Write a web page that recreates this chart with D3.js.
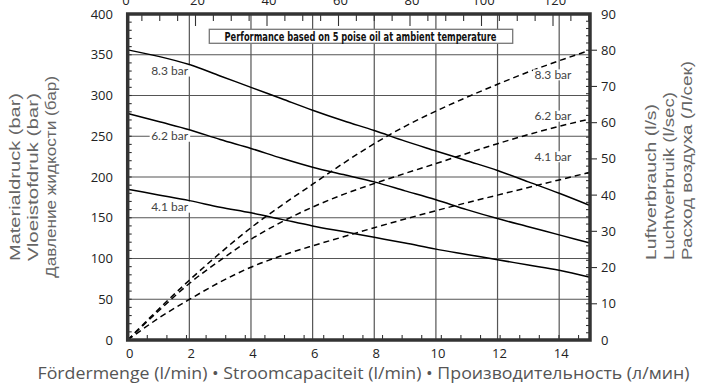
<!DOCTYPE html>
<html><head><meta charset="utf-8">
<script src="https://cdn.jsdelivr.net/npm/d3@7"></script>
<style>body{margin:0;background:#fff}svg{display:block}</style>
</head><body><svg id="c" width="704" height="392"></svg>
<script>
// ---- data ----
const flow = [0,1,2,3,4,5,6,7,8,9,10,11,12,13,14,15];            // l/min
const pressure83 = [356,348,338,324,310,296,282,269,257,244,232,220,208,194,180,165];
const pressure62 = [278,268,258,246,235,223,212,203,194,183,172,160,149,139,129,119];
const pressure41 = [185,178,171,163,156,148,140,133,126,119,111.5,105,98.5,92,85.5,77];
const air83 = [0,8.5,16.5,24,31,37.2,43,48.8,54.2,59,63.2,67,70.6,74,77.1,80];
const air62 = [0,8,15.6,22,27.8,32.6,36.7,40.2,43.2,46,48.7,51.5,54.2,56.7,59,61];
const air41 = [0,6,11.2,16,20.1,23.3,26,28.5,31,33.4,35.7,37.9,40,42.1,44.2,46.3];
const seriesNames = ["8.3 bar","6.2 bar","4.1 bar"];
const pressureLabelValues = [330,250,163];   // left-axis value of each pressure label
const airLabelValues = [73.2,61.8,50.6];     // right-axis value of each air label
const leftTicks = [0,50,100,150,200,250,300,350,400];
const rightTicks = [0,10,20,30,40,50,60,70,80,90];
const bottomTicks = [0,2,4,6,8,10,12,14];
const topTicks = [0,20,40,60,80,100,120];
const titleText = "Performance based on 5 poise oil at ambient temperature";
const leftTitles = ["Materialdruck (bar)","Vloeistofdruk (bar)","Давление жидкости (бар)"];
const rightTitles = ["Luftverbrauch (l/s)","Luchtverbruik (l/sec)","Расход воздуха (Л/сек)"];
const bottomTitle = "Fördermenge (l/min)  •  Stroomcapaciteit (l/min)  •  Производительность (л/мин)";

// ---- layout ----
const L = 127.7, R = 590, T = 14, B = 340;
const svg = d3.select("#c");
const x = d3.scaleLinear().domain([0,15]).range([L,R]);
const yL = d3.scaleLinear().domain([0,400]).range([B,T]);
const yR = d3.scaleLinear().domain([0,90]).range([B,T]);
const xTop = d3.scaleLinear().domain([0,120]).range([124,553]);
const numFont = "'Open Sans', 'Noto Sans', sans-serif";

// gridlines
const g = svg.append("g");
g.selectAll("line.v").data(bottomTicks.filter(d=>d>0)).join("line")
  .attr("x1",d=>x(d)).attr("x2",d=>x(d)).attr("y1",T).attr("y2",B)
  .attr("stroke","#555").attr("stroke-width",1.2);
g.selectAll("line.h").data(leftTicks.filter(d=>d>0&&d<400)).join("line")
  .attr("x1",L).attr("x2",R).attr("y1",d=>yL(d)).attr("y2",d=>yL(d))
  .attr("stroke","#555").attr("stroke-width",1.2);

// minor ticks
const tk = svg.append("g").attr("stroke","#333").attr("stroke-width",1.1);
tk.selectAll("line.l").data(d3.range(10,400,10)).join("line")
  .attr("x1",L).attr("x2",L+4).attr("y1",d=>yL(d)).attr("y2",d=>yL(d));
tk.selectAll("line.r").data(d3.range(2,90,2)).join("line")
  .attr("x1",R-4).attr("x2",R).attr("y1",d=>yR(d)).attr("y2",d=>yR(d));
tk.selectAll("line.ro").data(rightTicks.filter(d=>d>0&&d<90)).join("line")
  .attr("x1",R).attr("x2",R+7).attr("y1",d=>yR(d)).attr("y2",d=>yR(d));
tk.selectAll("line.t").data(d3.range(5,131,5)).join("line")
  .attr("x1",d=>xTop(d)).attr("x2",d=>xTop(d)).attr("y1",T)
  .attr("y2",d=>d%20===0?T+12:T+7);
tk.selectAll("line.b").data(d3.range(0.636,15,0.636)).join("line")
  .attr("x1",d=>x(d)).attr("x2",d=>x(d)).attr("y1",B-5).attr("y2",B);

// curves
const line = (ys, sc) => d3.line().x((d,i)=>x(flow[i])).y(d=>sc(d)).curve(d3.curveMonotoneX)(ys);
const cg = svg.append("g").attr("fill","none").attr("stroke","#000").attr("stroke-width",1.5);
[pressure83,pressure62,pressure41].forEach(s=>cg.append("path").attr("d",line(s,yL)));
[air83,air62,air41].forEach(s=>cg.append("path").attr("d",line(s,yR)).attr("stroke-dasharray","6,4"));

// frame
svg.append("rect").attr("x",L).attr("y",T).attr("width",R-L).attr("height",B-T)
  .attr("fill","none").attr("stroke","#333").attr("stroke-width",3.5);

// series labels
const lblFont = "Lato, 'Open Sans', sans-serif";
function lbl(txt, cx, cy){
  const t = svg.append("text").attr("x",cx).attr("y",cy+4).attr("text-anchor","middle")
    .attr("font-family",lblFont).attr("font-size",12).attr("fill","#444").text(txt);
  const bb = t.node().getBBox();
  svg.insert("rect", function(){return t.node();}).attr("x",bb.x-1.5).attr("y",cy-5.5)
    .attr("width",bb.width+3).attr("height",11).attr("fill","#fff");
}
seriesNames.forEach((n,i)=>lbl(n, x(1.36), yL(pressureLabelValues[i])));
seriesNames.forEach((n,i)=>lbl(n, x(13.8), yR(airLabelValues[i])));

// title box
svg.append("rect").attr("x",209.3).attr("y",29.3).attr("width",303.4).attr("height",14)
  .attr("fill","#fff").attr("stroke","#777").attr("stroke-width",1.3);
svg.append("text").attr("x",360.5).attr("y",40.7).attr("text-anchor","middle")
  .attr("font-family","'Liberation Sans Narrow', 'DejaVu Sans Condensed', sans-serif")
  .attr("font-weight","bold").attr("font-size",12.5).attr("fill","#111")
  .attr("textLength",272).attr("lengthAdjust","spacingAndGlyphs").text(titleText);

// tick labels
svg.append("g").selectAll("text").data(leftTicks).join("text")
  .attr("x",113).attr("y",d=>yL(d)+4.5).attr("text-anchor","end")
  .attr("font-family",numFont).attr("font-size",13).attr("fill","#222").text(d=>d);
svg.append("g").selectAll("text").data(rightTicks).join("text")
  .attr("x",601).attr("y",d=>yR(d)+4.5).attr("text-anchor","start")
  .attr("font-family",numFont).attr("font-size",13).attr("fill","#222").text(d=>d);
svg.append("g").selectAll("text").data(bottomTicks).join("text")
  .attr("x",d=>x(d)+2).attr("y",358).attr("text-anchor","middle")
  .attr("font-family",numFont).attr("font-size",13).attr("fill","#222").text(d=>d);
svg.append("g").selectAll("text").data(topTicks).join("text")
  .attr("x",d=>xTop(d)+2).attr("y",4.5).attr("text-anchor","middle")
  .attr("font-family",numFont).attr("font-size",13).attr("fill","#222").text(d=>d);

// axis titles
const titleFont = "'Liberation Sans', Arial, sans-serif";
const leftLens = [168,168,202];
const rightLens = [156,168,199];
leftTitles.forEach((t,i)=>svg.append("text")
  .attr("transform",`translate(${20+i*18},177) rotate(-90)`).attr("text-anchor","middle")
  .attr("font-family",titleFont).attr("font-size",15).attr("fill","#666")
  .attr("textLength",leftLens[i]).attr("lengthAdjust","spacingAndGlyphs").text(t));
rightTitles.forEach((t,i)=>svg.append("text")
  .attr("transform",`translate(${656+i*18},260) rotate(-90)`).attr("text-anchor","start")
  .attr("font-family",titleFont).attr("font-size",15).attr("fill","#666")
  .attr("textLength",rightLens[i]).attr("lengthAdjust","spacingAndGlyphs").text(t));
svg.append("text").attr("x",363.5).attr("y",379).attr("text-anchor","middle")
  .attr("font-family","'Open Sans', sans-serif").attr("font-size",15.5).attr("fill","#555")
  .attr("textLength",652).attr("lengthAdjust","spacingAndGlyphs")
  .text(bottomTitle);
</script></body></html>
